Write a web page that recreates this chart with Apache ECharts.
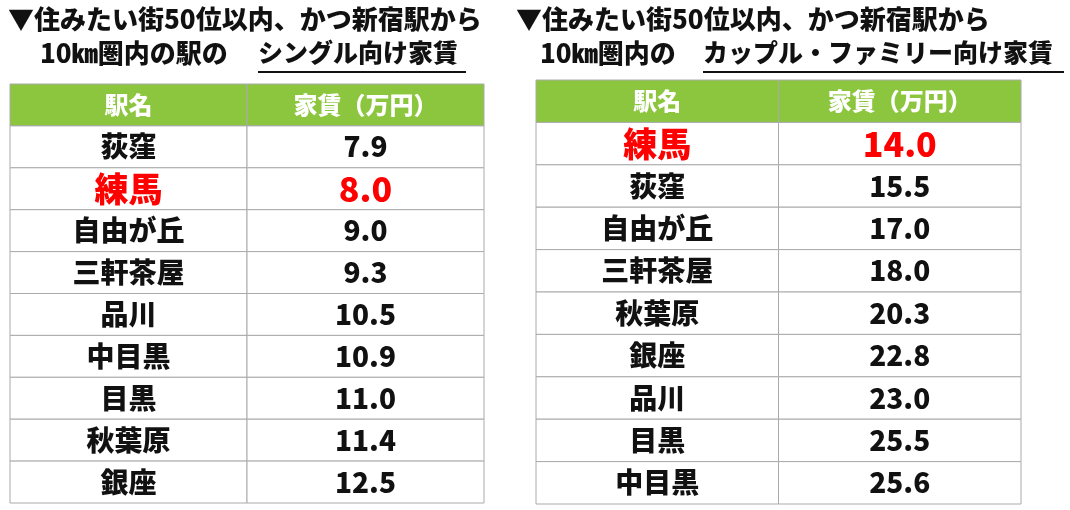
<!DOCTYPE html>
<html><head><meta charset="utf-8">
<script src="https://cdn.jsdelivr.net/npm/echarts@6/dist/echarts.min.js"></script>
<style>html,body{margin:0;background:#fff}#main{width:1070px;height:510px}</style>
</head><body><div id="main"></div>
<script>
var headers = ['駅名', '家賃（万円）'];
var singleStations = ['荻窪', '練馬', '自由が丘', '三軒茶屋', '品川', '中目黒', '目黒', '秋葉原', '銀座'];
var singleRent = ['7.9', '8.0', '9.0', '9.3', '10.5', '10.9', '11.0', '11.4', '12.5'];
var familyStations = ['練馬', '荻窪', '自由が丘', '三軒茶屋', '秋葉原', '銀座', '品川', '目黒', '中目黒'];
var familyRent = ['14.0', '15.5', '17.0', '18.0', '20.3', '22.8', '23.0', '25.5', '25.6'];
var highlight = '練馬';

var FONT = '"Noto Sans CJK JP", sans-serif';
var myChart = echarts.init(document.getElementById('main'));

function cells(stations, rent) {
  var out = [[0, 0, headers[0], 'h'], [1, 0, headers[1], 'h']];
  stations.forEach(function (s, i) {
    var kind = s === highlight ? 'r' : 'n';
    out.push([0, i + 1, s, kind]);
    out.push([1, i + 1, rent[i], kind]);
  });
  return out;
}

function renderCell(params, api) {
  var c = api.coord([api.value(0), api.value(1)]);
  var sz = api.size([1, 1]);
  var kind = api.value(3);
  var fill = kind === 'h' ? '#8cc63f' : '#fff';
  var color = kind === 'h' ? '#fff' : kind === 'r' ? '#ff0000' : '#111';
  var fs = kind === 'h' ? 24 : kind === 'r' ? 34 : 28;
  return {
    type: 'group',
    children: [
      { type: 'rect', shape: { x: c[0] - sz[0] / 2, y: c[1] - sz[1] / 2, width: sz[0], height: sz[1] },
        style: { fill: fill, stroke: '#aaa', lineWidth: 1 } },
      { type: 'text', x: c[0], y: c[1],
        style: { text: api.value(2), fill: color, font: '900 ' + fs + 'px ' + FONT, align: 'center', verticalAlign: 'middle' } }
    ]
  };
}

var rowsIdx = Array.from({ length: 10 }, function (_, i) { return i; });

var option = {
  animation: false,
  grid: [
    { left: 10, top: 84, width: 474, height: 419 },
    { left: 536, top: 80, width: 485, height: 424 }
  ],
  xAxis: [0, 1].map(function (g) {
    return { gridIndex: g, type: 'category', data: [0, 1], show: false };
  }),
  yAxis: [0, 1].map(function (g) {
    return { gridIndex: g, type: 'category', data: rowsIdx, inverse: true, show: false };
  }),
  series: [
    { type: 'custom', xAxisIndex: 0, yAxisIndex: 0, data: cells(singleStations, singleRent), renderItem: renderCell },
    { type: 'custom', xAxisIndex: 1, yAxisIndex: 1, data: cells(familyStations, familyRent), renderItem: renderCell }
  ],
  graphic: [
    { type: 'text', left: 8, top: 6, style: { text: '▼住みたい街50位以内、かつ新宿駅から', font: '900 26px ' + FONT, fill: '#111' } },
    { type: 'text', left: 40, top: 40, style: { text: '10㎞圏内の駅の', font: '900 26px ' + FONT, fill: '#111' } },
    { type: 'text', left: 258, top: 40, style: { text: 'シングル向け家賃', font: '900 25px ' + FONT, fill: '#111' } },
    { type: 'line', shape: { x1: 258, y1: 72, x2: 466, y2: 72 }, style: { stroke: '#111', lineWidth: 2 } },
    { type: 'text', left: 516, top: 6, style: { text: '▼住みたい街50位以内、かつ新宿駅から', font: '900 26px ' + FONT, fill: '#111' } },
    { type: 'text', left: 540, top: 40, style: { text: '10㎞圏内の', font: '900 26px ' + FONT, fill: '#111' } },
    { type: 'text', left: 703, top: 40, style: { text: 'カップル・ファミリー向け家賃', font: '900 25px ' + FONT, fill: '#111' } },
    { type: 'line', shape: { x1: 703, y1: 72, x2: 1064, y2: 72 }, style: { stroke: '#111', lineWidth: 2 } }
  ]
};
myChart.setOption(option);
</script></body></html>
